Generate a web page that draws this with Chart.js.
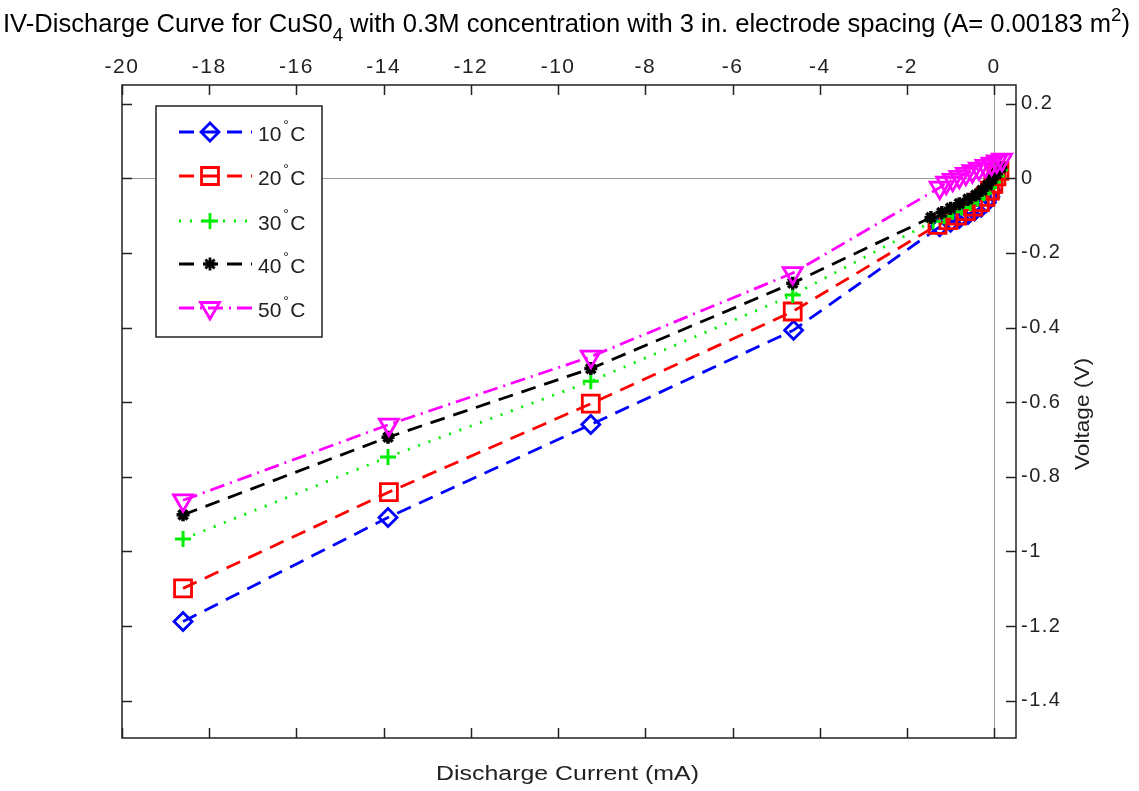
<!DOCTYPE html>
<html>
<head>
<meta charset="utf-8">
<script src="https://cdn.jsdelivr.net/npm/chart.js@4.4.1/dist/chart.umd.min.js"></script>
<style>
  html, body { margin: 0; padding: 0; background: #fff; }
  #wrap { width: 1139px; height: 791px; }
</style>
</head>
<body>
<div id="wrap"><canvas id="iv"></canvas></div>
<script>
// values (current in mA, voltage in V)
const current10 = [-18.6, -13.9, -9.25, -4.6, -1.25, -1.0, -0.8, -0.6, -0.45, -0.3, -0.18, -0.1, -0.05];
const voltage10 = [-1.188, -0.909, -0.66, -0.407, -0.13, -0.118, -0.108, -0.097, -0.088, -0.078, -0.065, -0.05, -0.035];

const current20 = [-18.6, -13.88, -9.25, -4.62, -1.3, -1.05, -0.85, -0.65, -0.48, -0.33, -0.2, -0.1, -0.02, 0.05, 0.12];
const voltage20 = [-1.099, -0.841, -0.604, -0.357, -0.125, -0.112, -0.1, -0.088, -0.076, -0.064, -0.05, -0.033, -0.015, 0.005, 0.02];

const current30 = [-18.6, -13.9, -9.25, -4.62, -1.4, -1.15, -0.95, -0.75, -0.55, -0.38, -0.24, -0.12, -0.03, 0.06, 0.14];
const voltage30 = [-0.967, -0.747, -0.544, -0.313, -0.115, -0.102, -0.09, -0.078, -0.066, -0.054, -0.04, -0.025, -0.01, 0.006, 0.022];

const current40 = [-18.6, -13.9, -9.25, -4.62, -1.45, -1.2, -1.0, -0.8, -0.6, -0.42, -0.28, -0.15, -0.05, 0.05, 0.15];
const voltage40 = [-0.902, -0.694, -0.51, -0.281, -0.105, -0.092, -0.08, -0.068, -0.056, -0.045, -0.032, -0.018, -0.003, 0.012, 0.028];

const current50 = [-18.6, -13.88, -9.25, -4.62, -1.25, -1.1, -0.95, -0.8, -0.65, -0.5, -0.35, -0.2, -0.06, 0.06, 0.18];
const voltage50 = [-0.863, -0.66, -0.478, -0.254, -0.025, -0.012, -0.004, 0.004, 0.012, 0.019, 0.026, 0.033, 0.039, 0.045, 0.05];

const seriesNames = ["10", "20", "30", "40", "50"];
const xTicks = [-20, -18, -16, -14, -12, -10, -8, -6, -4, -2, 0];
const yTicks = [0.2, 0, -0.2, -0.4, -0.6, -0.8, -1, -1.2, -1.4];

const pts = (xs, ys) => xs.map((x, i) => ({ x: x, y: ys[i] }));

const styles = [
  { color: "#0000ff", dash: [15, 9], point: "rectRot", radius: 9, rot: 0, bw: 2.8 },
  { color: "#ff0000", dash: [15, 9], point: "rect", radius: 12, rot: 0, bw: 2.8 },
  { color: "#00ee00", dash: [2, 9], point: "cross", radius: 8, rot: 0, bw: 3 },
  { color: "#000000", dash: [15, 9], point: "star", radius: 6.5, rot: 0, bw: 3.5 },
  { color: "#ff00ff", dash: [15, 6, 2, 6], point: "triangle", radius: 11, rot: 180, bw: 2.8 },
];
const allX = [current10, current20, current30, current40, current50];
const allY = [voltage10, voltage20, voltage30, voltage40, voltage50];

const datasets = seriesNames.map((name, i) => ({
  label: name + "°C",
  data: pts(allX[i], allY[i]),
  showLine: true,
  borderColor: styles[i].color,
  borderWidth: 2.8,
  borderDash: styles[i].dash,
  pointStyle: styles[i].point,
  pointRadius: styles[i].radius,
  pointRotation: styles[i].rot,
  pointBorderWidth: styles[i].bw,
  pointBorderColor: styles[i].color,
  pointBackgroundColor: "rgba(0,0,0,0)",
  order: 5 - i,
}));

function fitText(ctx, text, x, y, width, font) {
  ctx.font = font;
  const w = ctx.measureText(text).width;
  ctx.save();
  ctx.translate(x, y);
  ctx.scale(width / w, 1);
  ctx.fillText(text, 0, 0);
  ctx.restore();
}

const decor = {
  id: "decor",
  beforeDraw(chart) {
    chart.ctx.letterSpacing = "1.5px";
  },
  afterDraw(chart) {
    const ctx = chart.ctx;
    const a = chart.chartArea;
    const xs = chart.scales.x, ys = chart.scales.y;
    ctx.save();
    ctx.letterSpacing = "0px";
    // box
    ctx.strokeStyle = "#222";
    ctx.lineWidth = 1.5;
    ctx.setLineDash([]);
    ctx.strokeRect(a.left, a.top, a.right - a.left, a.bottom - a.top);
    // inward ticks
    ctx.beginPath();
    xTicks.forEach(v => {
      const px = Math.round(xs.getPixelForValue(v)) + 0.5;
      ctx.moveTo(px, a.top); ctx.lineTo(px, a.top + 10);
      ctx.moveTo(px, a.bottom); ctx.lineTo(px, a.bottom - 10);
    });
    yTicks.forEach(v => {
      const py = Math.round(ys.getPixelForValue(v)) + 0.5;
      ctx.moveTo(a.left, py); ctx.lineTo(a.left + 10, py);
      ctx.moveTo(a.right, py); ctx.lineTo(a.right - 10, py);
    });
    ctx.stroke();

    // title with sub/superscripts, squeezed to the reference width
    ctx.fillStyle = "#000";
    ctx.textBaseline = "alphabetic";
    const parts = [
      ["IV-Discharge Curve for CuS0", 26, 0],
      ["4", 19, 9],
      [" with 0.3M concentration with 3 in. electrode spacing (A= 0.00183 m", 26, 0],
      ["2", 19, -11],
      [")", 26, 0],
    ];
    let total = 0;
    parts.forEach(p => { ctx.font = p[1] + "px 'Liberation Sans', Arial"; total += ctx.measureText(p[0]).width; });
    const sc = 1127 / total;
    ctx.save();
    ctx.translate(3, 32);
    ctx.scale(sc, 1);
    let cx = 0;
    parts.forEach(p => {
      ctx.font = p[1] + "px 'Liberation Sans', Arial";
      ctx.fillText(p[0], cx, p[2]);
      cx += ctx.measureText(p[0]).width;
    });
    ctx.restore();

    // axis titles
    ctx.fillStyle = "#222";
    ctx.textBaseline = "middle";
    fitText(ctx, "Discharge Current (mA)", 436, 774, 263, "20px 'Liberation Sans', Arial");
    ctx.save();
    ctx.translate(1083, 470);
    ctx.rotate(-Math.PI / 2);
    fitText(ctx, "Voltage (V)", 0, 0, 112, "20px 'Liberation Sans', Arial");
    ctx.restore();

    // legend
    ctx.fillStyle = "#fff";
    ctx.fillRect(156, 106, 166, 231);
    ctx.strokeStyle = "#222";
    ctx.lineWidth = 1.5;
    ctx.strokeRect(156, 106, 166, 231);
    const rows = [132, 176, 221, 264, 308];
    datasets.forEach((d, i) => {
      const yy = rows[i];
      ctx.strokeStyle = d.borderColor;
      ctx.lineWidth = 2.8;
      ctx.setLineDash(d.borderDash);
      ctx.beginPath();
      ctx.moveTo(179, yy); ctx.lineTo(252, yy);
      ctx.stroke();
      ctx.setLineDash([]);
      ctx.fillStyle = "rgba(0,0,0,0)";
      Chart.helpers.drawPoint(ctx, {
        pointStyle: d.pointStyle, radius: d.pointRadius, rotation: d.pointRotation, borderWidth: d.pointBorderWidth
      }, 210, yy);
      ctx.fillStyle = "#222";
      ctx.textBaseline = "alphabetic";
      ctx.font = "21px 'Liberation Sans', Arial";
      ctx.fillText(seriesNames[i], 258, yy + 9);
      let w = ctx.measureText(seriesNames[i]).width;
      ctx.font = "14px 'Liberation Sans', Arial";
      ctx.fillText("°", 258 + w + 2, yy - 2);
      ctx.font = "21px 'Liberation Sans', Arial";
      ctx.fillText("C", 258 + w + 9, yy + 9);
    });
    ctx.restore();
  },
};

new Chart(document.getElementById("iv"), {
  type: "scatter",
  data: { datasets: datasets },
  options: {
    responsive: true,
    maintainAspectRatio: false,
    animation: false,
    events: [],
    layout: { padding: { left: 122, right: 0, top: 0, bottom: 53 } },
    plugins: { legend: { display: false }, title: { display: false }, tooltip: { enabled: false } },
    scales: {
      x: {
        type: "linear",
        position: "top",
        min: -20,
        max: 0.5,
        afterBuildTicks: s => { s.ticks = xTicks.map(v => ({ value: v })); },
        afterFit: s => { s.height = 85; },
        ticks: {
          color: "#222",
          padding: 5,
          font: { family: "'Liberation Sans', Arial", size: 21 },
          callback: v => String(v),
        },
        grid: {
          drawTicks: false,
          lineWidth: 1,
          color: c => (c.tick && c.tick.value === 0 ? "#999" : "rgba(0,0,0,0)"),
        },
        border: { display: false },
      },
      y: {
        type: "linear",
        position: "right",
        min: -1.5,
        max: 0.25,
        afterBuildTicks: s => { s.ticks = yTicks.map(v => ({ value: v })); },
        afterFit: s => { s.width = 123; },
        ticks: {
          color: "#222",
          padding: 5,
          font: { family: "'Liberation Sans', Arial", size: 20 },
          callback: v => String(Math.round(v * 10) / 10),
        },
        grid: {
          drawTicks: false,
          lineWidth: 1,
          color: c => (c.tick && c.tick.value === 0 ? "#999" : "rgba(0,0,0,0)"),
        },
        border: { display: false },
      },
    },
  },
  plugins: [decor],
});
</script>
</body>
</html>
